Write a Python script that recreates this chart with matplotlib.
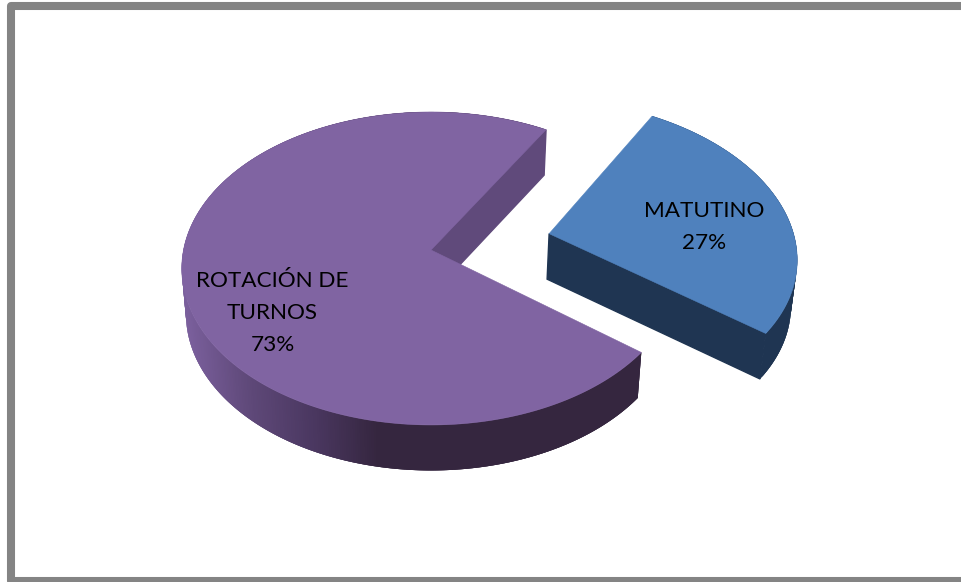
from matplotlib import pyplot as plt
from matplotlib.colors import LinearSegmentedColormap
from matplotlib.patches import Polygon
import numpy as np

labels = ['MATUTINO\n27%', 'ROTACIÓN DE\nTURNOS\n73%']
values = [27, 73]
explode = [0.495, 0.0]

top_colors = ['#4F81BD', '#8064A2']
cut_colors = ['#1F3552', '#604A7B']
rim_colors = [['#1F3552', '#1F3552'],
              ['#7A5F9C', '#5E4878', '#4A3760', '#35263F', '#35263F']]

# Perspective of the disc: centre, radii and depth of the extrusion (pixels)
cx, cy = 431.0, 250.0
rx, ry = 247.5, 154.3
persp = 0.118
depth = 45.5
shrink = 0.983
start_angle = -38.0
explode_angle = 12.5


# Project disc coordinates (unit circle, v pointing back) onto the page
def project(u, v):
    w = 1 + persp*v
    return cx + rx*u/w, cy - ry*v/w


def lower(x, y):
    return cx + (x - cx)*shrink, y + depth


fig = plt.figure(figsize=(9.62, 5.82), dpi=100)
ax = fig.add_axes([0, 0, 1, 1])
ax.set_xlim(0, 962)
ax.set_ylim(582, 0)
ax.axis('off')

# Frame around the chart, open on the right side
ax.add_patch(Polygon([(970, 6), (11, 6), (11, 581), (970, 581)], closed=False, fill=False,
                     edgecolor='#848484', linewidth=5.8, joinstyle='round'))

angles = start_angle + 360*np.cumsum([0] + values)/np.sum(values)

for i in range(len(values)):
    t = np.radians(np.arange(angles[i], angles[i+1], 0.5).tolist() + [angles[i+1]])
    u0 = explode[i]*np.cos(np.radians(explode_angle))
    v0 = explode[i]*np.sin(np.radians(explode_angle))

    ax_, ay_ = project(u0, v0)
    xs, ys = project(u0 + np.cos(t), v0 + np.sin(t))
    xl, yl = lower(xs, ys)

    # Outer rim, shaded across the page. Each strip overlaps the next one to hide seams
    cmap = LinearSegmentedColormap.from_list('rim', rim_colors[i])
    for j in range(len(t) - 1):
        pos = np.clip((xs[j] - 186)/(440 - 186), 0, 1)
        e = min(j + 3, len(t) - 1)
        strip = [(xs[n], ys[n]) for n in range(j, e + 1)] + [(xl[n], yl[n]) for n in range(e, j - 1, -1)]
        ax.add_patch(Polygon(strip, facecolor=cmap(pos), edgecolor='none', zorder=2))

    # Cut face seen from the front, from the apex to the start of the arc
    axl, ayl = lower(ax_, ay_)
    ax.add_patch(Polygon([(ax_, ay_), (xs[0], ys[0]), (xl[0], yl[0]), (axl, ayl)],
                         facecolor=cut_colors[i], edgecolor=cut_colors[i], linewidth=1.0, zorder=3))

    # Top face
    ax.add_patch(Polygon(np.column_stack([np.r_[ax_, xs], np.r_[ay_, ys]]),
                         facecolor=top_colors[i], edgecolor=top_colors[i], linewidth=0.4, zorder=4))

font = ['Lato', 'DejaVu Sans']
ax.text(704.5, 227, labels[0], ha='center', va='center', fontsize=16.2, family=font,
        color='black', linespacing=1.77, zorder=5)
ax.text(272.5, 313, labels[1], ha='center', va='center', fontsize=16.2, family=font,
        color='black', linespacing=1.77, zorder=5)

plt.savefig('out.png', dpi=100)
